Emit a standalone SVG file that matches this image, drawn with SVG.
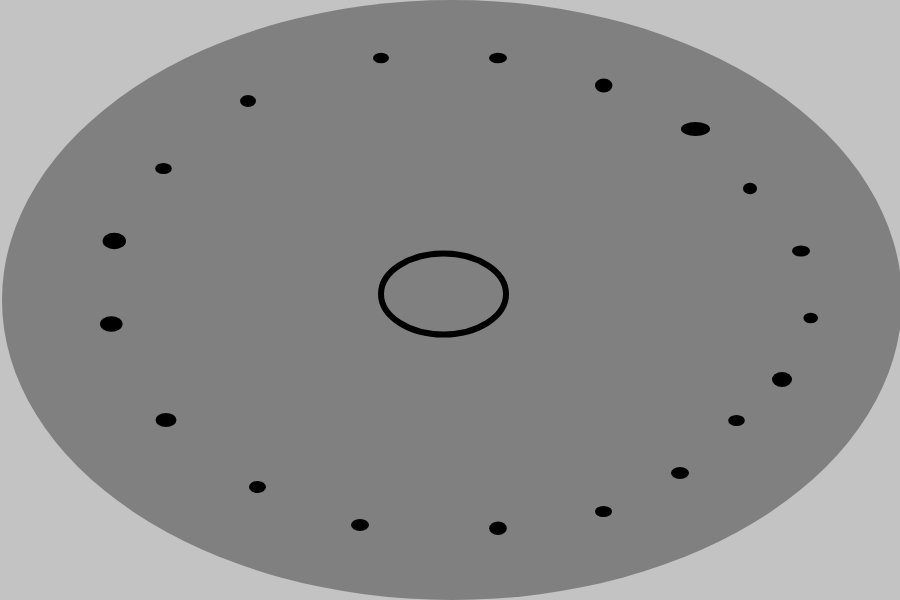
<svg xmlns="http://www.w3.org/2000/svg" width="900" height="600" viewBox="0 0 900 600">
  <style>
    .dot { fill: #000000; }
  </style>
  <rect x="0" y="0" width="900" height="600" fill="#c3c3c3"/>
  <ellipse cx="452" cy="300" rx="450" ry="300" fill="#808080"/>
  <ellipse cx="443.5" cy="294" rx="62.5" ry="40.5" fill="none" stroke="#000000" stroke-width="6"/>
  <g id="dots">
    <ellipse class="dot" cx="381" cy="58" rx="8" ry="5.3"/>
    <ellipse class="dot" cx="498" cy="58" rx="9" ry="5.3"/>
    <ellipse class="dot" cx="603.7" cy="85.5" rx="8.7" ry="7"/>
    <ellipse class="dot" cx="695.5" cy="129" rx="14.5" ry="7"/>
    <ellipse class="dot" cx="750" cy="188.5" rx="7" ry="5.7"/>
    <ellipse class="dot" cx="801" cy="251" rx="9" ry="5.5"/>
    <ellipse class="dot" cx="810.7" cy="318" rx="7.3" ry="5.3"/>
    <ellipse class="dot" cx="782" cy="379.5" rx="10" ry="7.5"/>
    <ellipse class="dot" cx="736.5" cy="420.5" rx="8.3" ry="5.5"/>
    <ellipse class="dot" cx="680" cy="473" rx="9" ry="6"/>
    <ellipse class="dot" cx="603.5" cy="511.5" rx="8.5" ry="5.5"/>
    <ellipse class="dot" cx="498" cy="528.3" rx="8.8" ry="6.7"/>
    <ellipse class="dot" cx="360" cy="525" rx="9" ry="6"/>
    <ellipse class="dot" cx="257.5" cy="487" rx="8.5" ry="6"/>
    <ellipse class="dot" cx="166" cy="420" rx="10.5" ry="7"/>
    <ellipse class="dot" cx="111.3" cy="324" rx="11.3" ry="7.8"/>
    <ellipse class="dot" cx="114.3" cy="241" rx="11.7" ry="8.3"/>
    <ellipse class="dot" cx="163.5" cy="168.5" rx="8.3" ry="5.5"/>
    <ellipse class="dot" cx="248" cy="101" rx="8" ry="6"/>
  </g>
</svg>
